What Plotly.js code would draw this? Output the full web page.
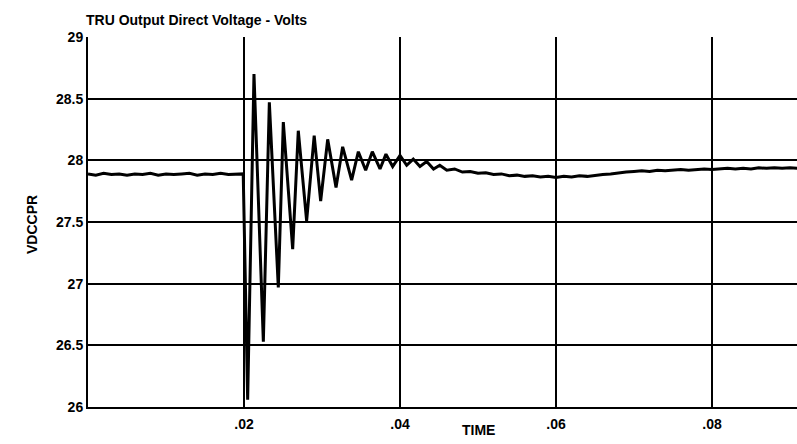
<!DOCTYPE html>
<html>
<head>
<meta charset="utf-8">
<script src="https://cdn.plot.ly/plotly-3.0.1.min.js"></script>
<style>html,body{margin:0;padding:0;background:#fff;}#chart{width:797px;height:444px;}</style>
</head>
<body>
<div id="chart"></div>
<script>
// Time (s) and VDCCPR (V)
var timeVals = [
  0.000, 0.001, 0.002, 0.003, 0.004, 0.005, 0.006, 0.007, 0.008, 0.009,
  0.010, 0.011, 0.012, 0.013, 0.014, 0.015, 0.016, 0.017, 0.018, 0.019, 0.0199,
  0.02047, 0.02128, 0.02248, 0.02325, 0.0244, 0.02504, 0.02624, 0.02696, 0.02803, 0.029,
  0.02983, 0.03073, 0.0318, 0.03265, 0.0338, 0.03466, 0.0356, 0.03645, 0.03744, 0.0382,
  0.03906, 0.040, 0.04086, 0.0417, 0.04256, 0.04342, 0.0443, 0.0451,
  0.046, 0.047, 0.048, 0.049, 0.050, 0.051, 0.052, 0.053, 0.054, 0.055,
  0.056, 0.057, 0.058, 0.059, 0.060, 0.061, 0.062, 0.063, 0.064, 0.065,
  0.066, 0.067, 0.068, 0.069, 0.070, 0.071, 0.072, 0.073, 0.074, 0.075,
  0.076, 0.077, 0.078, 0.079, 0.080, 0.081, 0.082, 0.083, 0.084, 0.085,
  0.086, 0.087, 0.088, 0.089, 0.090, 0.091
];
var voltVals = [
  27.89, 27.88, 27.895, 27.885, 27.89, 27.88, 27.89, 27.885, 27.895, 27.88,
  27.89, 27.885, 27.89, 27.895, 27.88, 27.89, 27.885, 27.895, 27.885, 27.89, 27.89,
  26.06, 28.70, 26.53, 28.47, 26.97, 28.31, 27.28, 28.24, 27.51, 28.20,
  27.67, 28.17, 27.78, 28.11, 27.84, 28.07, 27.92, 28.07, 27.93, 28.05,
  27.95, 28.04, 27.96, 28.01, 27.95, 27.99, 27.93, 27.96,
  27.92, 27.93, 27.905, 27.91, 27.895, 27.9, 27.885, 27.89, 27.875, 27.88,
  27.87, 27.875, 27.865, 27.87, 27.86, 27.87, 27.865, 27.875, 27.87, 27.88,
  27.885, 27.89, 27.9, 27.905, 27.91, 27.915, 27.91, 27.92, 27.915, 27.92,
  27.925, 27.92, 27.925, 27.93, 27.925, 27.93, 27.935, 27.93, 27.935, 27.93,
  27.94, 27.935, 27.94, 27.935, 27.94, 27.935
];
var xTickVals = [0.02, 0.04, 0.06, 0.08];
var xTickText = ['.02', '.04', '.06', '.08'];
var yTickVals = [26, 26.5, 27, 27.5, 28, 28.5, 29];
var yTickText = ['26', '26.5', '27', '27.5', '28', '28.5', '29'];

var fnt = {family: 'Liberation Sans, Arial, sans-serif', size: 14, color: '#000', weight: 'bold'};

var trace = {
  x: timeVals, y: voltVals, type: 'scatter', mode: 'lines',
  line: {color: '#000', width: 3}, hoverinfo: 'skip'
};

var layout = {
  width: 797, height: 444,
  margin: {l: 88, r: 0, t: 37, b: 37, pad: 0},
  paper_bgcolor: '#fff', plot_bgcolor: '#fff',
  showlegend: false,
  font: fnt,
  title: {text: 'TRU Output Direct Voltage - Volts', font: fnt, x: 86/797, xref: 'container', xanchor: 'left', y: 1 - 20/444, yref: 'container', yanchor: 'middle'},
  xaxis: {
    range: [0, 0.0909], tickmode: 'array', tickvals: xTickVals, ticktext: xTickText,
    showgrid: true, gridcolor: '#000', gridwidth: 1.5,
    showline: true, linecolor: '#000', linewidth: 2, zeroline: false,
    ticks: '', tickfont: fnt, ticklabelstandoff: 3
  },
  yaxis: {
    range: [26, 29], tickmode: 'array', tickvals: yTickVals, ticktext: yTickText,
    showgrid: true, gridcolor: '#000', gridwidth: 2,
    showline: true, linecolor: '#000', linewidth: 2, zeroline: false,
    ticks: '', tickfont: fnt
  },
  annotations: [
    {text: 'TIME', xref: 'paper', yref: 'paper', x: (478-88)/709, y: -(430-407)/370, xanchor: 'center', yanchor: 'middle', showarrow: false, font: fnt},
    {text: 'VDCCPR', xref: 'paper', yref: 'paper', x: (32-88)/709, y: (407-225)/370, xanchor: 'center', yanchor: 'middle', textangle: -90, showarrow: false, font: fnt}
  ]
};

Plotly.newPlot('chart', [trace], layout, {staticPlot: true, displayModeBar: false});
</script>
</body>
</html>
